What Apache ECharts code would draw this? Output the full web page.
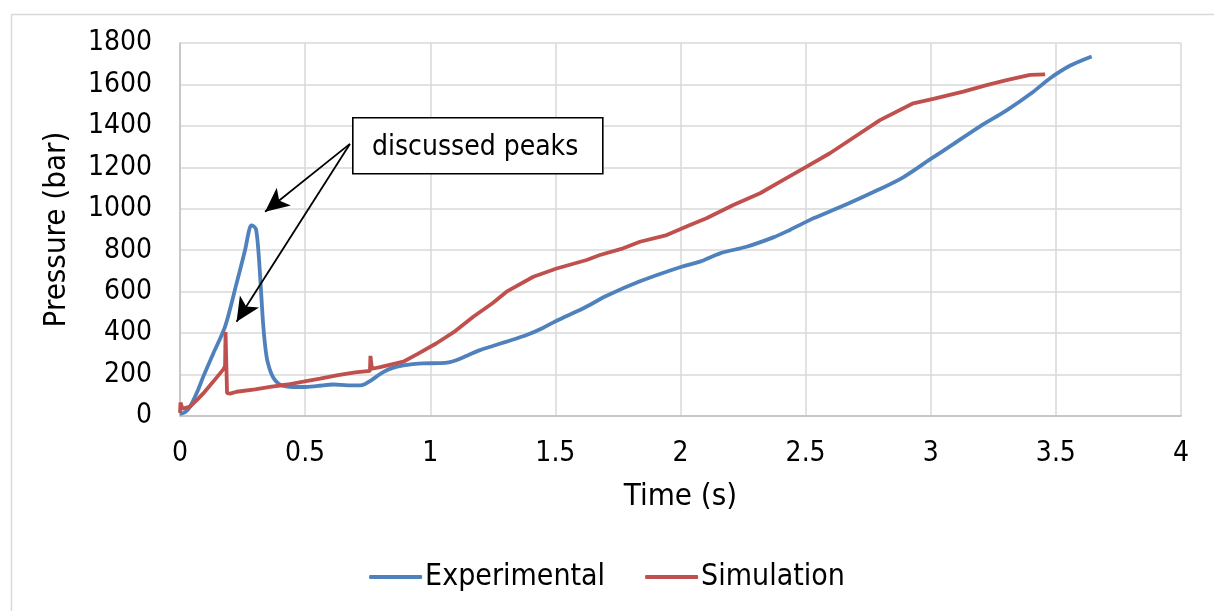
<!DOCTYPE html>
<html>
<head>
<meta charset="utf-8">
<script src="https://cdn.jsdelivr.net/npm/echarts@6/dist/echarts.min.js"></script>
<style>html,body{margin:0;padding:0;background:#fff;}#c{width:1214px;height:611px;}</style>
</head>
<body>
<div id="c"></div>
<script>
var FONT = "'DejaVu Sans Condensed', 'DejaVu Sans', sans-serif";
var seriesNames = ['Experimental', 'Simulation'];
var xTicks = [0, 0.5, 1, 1.5, 2, 2.5, 3, 3.5, 4];
var yTicks = [0, 200, 400, 600, 800, 1000, 1200, 1400, 1600, 1800];

var expT = [0, 0.02, 0.04, 0.07, 0.093, 0.133, 0.18, 0.226, 0.26, 0.275, 0.284, 0.295, 0.304, 0.313, 0.322, 0.333, 0.346, 0.36, 0.373, 0.39, 0.406, 0.45, 0.493, 0.55, 0.613, 0.67, 0.719, 0.74, 0.759, 0.785, 0.812, 0.85, 0.892, 0.93, 0.972, 1.039, 1.079, 1.106, 1.159, 1.199, 1.25, 1.305, 1.385, 1.45, 1.505, 1.612, 1.705, 1.838, 1.998, 2.078, 2.158, 2.264, 2.371, 2.437, 2.504, 2.531, 2.664, 2.784, 2.89, 2.997, 3.09, 3.197, 3.303, 3.41, 3.477, 3.556, 3.643];
var expP = [10, 18, 45, 120, 190, 302, 431, 640, 801, 890, 920, 915, 900, 801, 640, 431, 286, 220, 185, 160, 148, 140, 140, 145, 152, 148, 148, 155, 168, 190, 212, 232, 244, 250, 254, 255, 260, 270, 298, 318, 338, 359, 391, 425, 460, 520, 580, 650, 718, 745, 785, 817, 862, 898, 938, 954, 1022, 1088, 1152, 1238, 1312, 1398, 1475, 1565, 1630, 1690, 1735];

var simT = [0, 0.002, 0.01, 0.04, 0.07, 0.093, 0.133, 0.173, 0.18, 0.182, 0.186, 0.188, 0.2, 0.226, 0.3, 0.36, 0.43, 0.493, 0.56, 0.626, 0.7, 0.759, 0.761, 0.765, 0.767, 0.8, 0.892, 0.95, 1.025, 1.1, 1.172, 1.25, 1.305, 1.412, 1.505, 1.625, 1.678, 1.771, 1.838, 1.945, 2.038, 2.104, 2.211, 2.318, 2.411, 2.504, 2.597, 2.677, 2.797, 2.93, 3.01, 3.13, 3.223, 3.303, 3.397, 3.457];
var simP = [15, 65, 35, 45, 80, 109, 166, 225, 240, 405, 400, 110, 108, 117, 128, 141, 152, 166, 180, 196, 210, 218, 290, 285, 228, 236, 262, 300, 351, 410, 479, 545, 600, 672, 712, 753, 777, 809, 841, 873, 922, 954, 1018, 1075, 1139, 1203, 1268, 1332, 1428, 1509, 1530, 1565, 1597, 1621, 1646, 1649];

var annotationText = 'discussed peaks';
var arrowFrom = [0.679, 1313];
var arrowTips = [[0.34, 986], [0.226, 455]];

function pairs(xs, ys) { return xs.map(function (x, i) { return [x, ys[i]]; }); }

var chart = echarts.init(document.getElementById('c'), null, {renderer: 'canvas'});
var option = {
  backgroundColor: '#ffffff',
  animation: false,
  textStyle: {fontFamily: FONT},
  grid: {left: 180, right: 33, top: 43, bottom: 195, containLabel: false},
  xAxis: {
    type: 'value', min: xTicks[0], max: xTicks[xTicks.length - 1], interval: 0.5,
    name: 'Time (s)', nameLocation: 'middle', nameGap: 65,
    nameTextStyle: {fontFamily: FONT, fontSize: 31, color: '#000'},
    axisLine: {show: true, lineStyle: {color: '#bfbfbf', width: 1.5}},
    axisTick: {show: false},
    axisLabel: {fontFamily: FONT, fontSize: 28, color: '#000', margin: 24,
      formatter: function (v) { return String(v); }},
    splitLine: {show: true, lineStyle: {color: '#d9d9d9', width: 1.5}}
  },
  yAxis: {
    type: 'value', min: yTicks[0], max: yTicks[yTicks.length - 1], interval: 200,
    name: 'Pressure (bar)', nameLocation: 'middle', nameGap: 108, nameRotate: 90,
    nameTextStyle: {fontFamily: FONT, fontSize: 31, color: '#000'},
    axisLine: {show: true, lineStyle: {color: '#bfbfbf', width: 1.5}},
    axisTick: {show: false},
    axisLabel: {fontFamily: FONT, fontSize: 28, color: '#000', margin: 28,
      formatter: function (v) { return String(v); }},
    splitLine: {show: true, lineStyle: {color: '#d9d9d9', width: 1.5}}
  },
  legend: {
    bottom: 14, left: 'center',
    itemWidth: 53, itemHeight: 4, itemGap: 40,
    icon: 'roundRect',
    textStyle: {fontFamily: FONT, fontSize: 30, color: '#000', padding: [0, 0, 0, -2]},
    data: seriesNames
  },
  series: [
    {
      name: seriesNames[0], type: 'line', data: pairs(expT, expP),
      showSymbol: false, symbol: 'none', smooth: 0.3,
      lineStyle: {color: '#4f81bd', width: 3.8}, itemStyle: {color: '#4f81bd'}, z: 3
    },
    {
      name: seriesNames[1], type: 'line', data: pairs(simT, simP),
      showSymbol: false, symbol: 'none', smooth: false,
      lineStyle: {color: '#c0504d', width: 3.8}, itemStyle: {color: '#c0504d'}, z: 4,
      markLine: {
        silent: true, symbol: ['none', 'arrow'], symbolSize: [17, 24],
        label: {show: false},
        lineStyle: {color: '#000', width: 1.8, type: 'solid'},
        emphasis: {disabled: true},
        data: arrowTips.map(function (tip) { return [{coord: arrowFrom}, {coord: tip}]; })
      }
    }
  ],
  graphic: [
    {type: 'rect', left: 9, top: 12, shape: {width: 1300, height: 700},
     style: {fill: 'none', stroke: '#d9d9d9', lineWidth: 1.5}, silent: true, z: -10},
    {type: 'rect', left: 352, top: 117, shape: {width: 250, height: 56},
     style: {fill: '#fff', stroke: '#000', lineWidth: 1.6}, z: 100},
    {type: 'text', left: 372, top: 134,
     style: {text: annotationText, font: '28px ' + FONT, fill: '#000'}, z: 101}
  ]
};
chart.setOption(option);
</script>
</body>
</html>
